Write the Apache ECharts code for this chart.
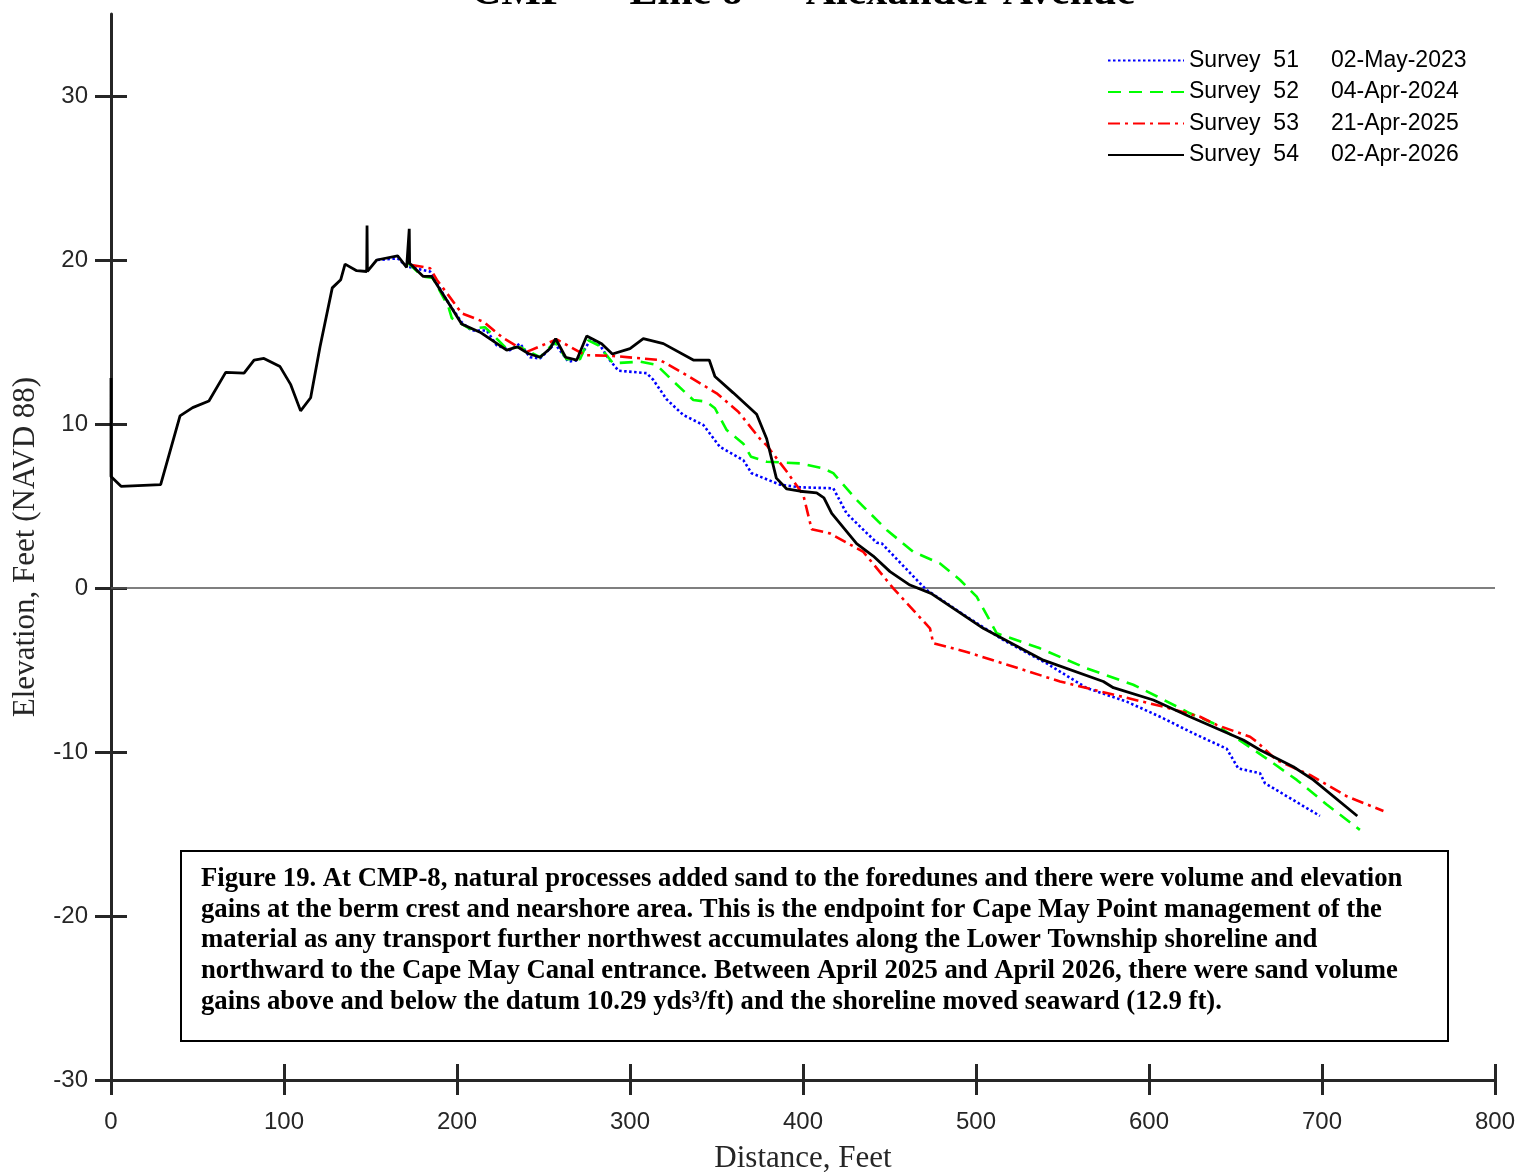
<!DOCTYPE html>
<html>
<head>
<meta charset="utf-8">
<script src="https://cdn.jsdelivr.net/npm/echarts@6/dist/echarts.min.js"></script>
<style>
html,body{margin:0;padding:0;background:#fff;}
#chart{width:1520px;height:1172px;}
</style>
</head>
<body>
<div id="chart"></div>
<script>
// ---------------- DATA ----------------
const chartTitle = 'CMP  –  Line 8  –  Alexander Avenue';
const xAxisName = 'Distance, Feet';
const yAxisName = 'Elevation, Feet (NAVD 88)';
const xTicks = [0, 100, 200, 300, 400, 500, 600, 700, 800];
const yTicks = [-30, -20, -10, 0, 10, 20, 30];

const surveyNames = ['Survey  51', 'Survey  52', 'Survey  53', 'Survey  54'];
const surveyDates = ['02-May-2023', '04-Apr-2024', '21-Apr-2025', '02-Apr-2026'];

// Survey 51 (02-May-2023)
const dist51 = [154,165.7,171,184.4,194,202.7,208.5,217.2,222.9,230.6,236.4,242.2,248,256.6,264.3,270.1,276.9,282.7,287.5,293.3,309.6,313.4,321.2,330.8,342.4,352,365.5,370.3,386.7,398.3,417.5,425.2,442.6,445.5,467.6,471.5,494.6,515.8,540.9,564,587.1,606.4,625.6,644.9,651.6,664.2,667,698.8];
const elev51 = [20.0,20.1,19.6,19.3,17.56,16.2,15.7,15.7,14.8,14.5,14.9,14.07,14.0,14.9,13.8,13.9,15.1,14.8,14.0,13.25,13.1,12.7,11.5,10.55,9.94,8.6,7.8,7.0,6.3,6.14,6.08,4.55,2.76,2.72,0.29,-0.12,-1.75,-3.17,-4.6,-6.1,-6.93,-7.85,-8.86,-9.8,-11.0,-11.3,-11.9,-13.9];

// Survey 52 (04-Apr-2024)
const dist52 = [172,180,186,195,197,207.5,216.2,220.1,228.7,236.4,248,256.6,263.4,271.1,275.9,281.7,290.3,305.8,315.4,323.1,336.6,344.3,349.1,355.9,365.5,370,379,398.3,411.7,417.5,431,448.4,463.8,479.2,490.8,500.4,512,537,564,590.9,604.4,623.7,637.2,650.7,668,685.4,702.7,721.9];
const elev52 = [19.8,19.0,18.9,17.15,16.45,15.8,15.9,15.5,14.6,14.7,14.07,15.0,13.95,13.95,15.1,14.8,13.7,13.8,13.6,12.8,11.46,11.36,10.96,9.63,8.8,8.0,7.7,7.6,7.3,7.0,5.37,3.54,2.2,1.5,0.49,-0.53,-2.76,-3.68,-4.9,-5.9,-6.6,-7.64,-8.25,-9.17,-10.4,-11.7,-13.2,-14.75];

// Survey 53 (21-Apr-2025)
const dist53 = [173.8,184.4,188.3,194,202.7,215.2,226.8,240.3,257.6,274,290.3,317.3,330.8,350.1,362.6,375.1,379,390.6,400.2,405,415.6,434.9,452.2,473.4,475.3,494.6,548.6,571.7,608.3,629.5,639.1,658.4,662.2,673.8,693,714.3,735.5];
const elev53 = [19.7,19.5,18.8,18.0,16.75,16.24,15.23,14.4,15.16,14.2,14.15,13.9,13.1,11.87,10.75,9.1,8.7,7.1,5.67,3.58,3.33,2.2,-0.02,-2.46,-3.37,-3.9,-5.7,-6.3,-7.24,-7.85,-8.35,-9.07,-9.37,-10.5,-11.4,-12.7,-13.6];

// Survey 54 (02-Apr-2026)
const dist54 = [0,0,5.8,28.7,39.9,47.2,56.6,66.3,76.9,82.7,88.4,97.7,103.9,109.6,115.4,120.8,127.9,132.8,135.3,142,147.8,148,148.2,153.6,165.7,170.9,172.4,172.6,180.5,185.4,195,202.7,213.3,228.7,234.9,241.2,248,253.8,257,262.8,269.2,275,283.6,289.8,300,307.7,319.3,336.6,345.8,349.1,359.7,373.2,379,384.6,390.6,398.3,407.9,412.1,416.6,431,440.6,450.3,461.8,474,504.2,538.9,573.6,579.4,602.5,623.7,654.5,664.2,683.4,695,720.4];
const elev54 = [12.8,6.8,6.2,6.3,10.5,11.0,11.4,13.15,13.1,13.9,14.0,13.5,12.4,10.8,11.6,14.7,18.3,18.8,19.75,19.35,19.3,22.1,19.3,20.0,20.25,19.55,21.9,19.8,19.0,19.0,17.4,16.1,15.6,14.5,14.7,14.3,14.07,14.6,15.2,14.07,13.9,15.37,14.9,14.27,14.6,15.2,14.9,13.9,13.9,12.9,11.9,10.6,9.1,6.7,6.04,5.9,5.8,5.5,4.55,2.7,1.95,1.0,0.18,-0.33,-2.46,-4.4,-5.7,-6.08,-6.83,-7.85,-9.27,-9.88,-10.9,-11.7,-13.9];

const captionLines = [
  'Figure 19. At CMP-8, natural processes added sand to the foredunes and there were volume and elevation',
  'gains at the berm crest and nearshore area. This is the endpoint for Cape May Point management of the',
  'material as any transport further northwest accumulates along the Lower Township shoreline and',
  'northward to the Cape May Canal entrance. Between April 2025 and April 2026, there were sand volume',
  'gains above and below the datum 10.29 yds³/ft) and the shoreline moved seaward (12.9 ft).'
];

// ---------------- CHART ----------------
const pairs = (xs, ys) => xs.map((x, i) => [x, ys[i]]);
const SERIF = '"Liberation Serif", "Times New Roman", serif';
const SANS = '"Liberation Sans", Arial, sans-serif';
const AX = '#262626';

const styles = [
  {color: '#0000ff', type: [2.5, 2.5], width: 2.6},
  {color: '#00ff00', type: [13, 8], width: 2.6},
  {color: '#ff0000', type: [12, 5, 3, 5], width: 2.6},
  {color: '#000000', type: 'solid', width: 2.8}
];
const dataSets = [pairs(dist51, elev51), pairs(dist52, elev52), pairs(dist53, elev53), pairs(dist54, elev54)];

const series = dataSets.map((d, i) => ({
  name: surveyNames[i],
  type: 'line',
  data: d,
  xAxisIndex: 0,
  yAxisIndex: 0,
  symbol: 'none',
  smooth: false,
  lineStyle: {color: styles[i].color, type: styles[i].type, width: styles[i].width, cap: 'butt'},
  itemStyle: {color: styles[i].color},
  z: 3 + i
}));
series[0].markLine = {
  silent: true,
  symbol: 'none',
  label: {show: false},
  lineStyle: {color: '#555', width: 1.5, type: 'solid'},
  data: [{yAxis: 0}],
  z: 1
};

const graphics = [
  {type: 'text', x: 803, y: 14, silent: true,
   style: {text: chartTitle, font: 'bold 42px ' + SERIF, fill: '#000', align: 'center', verticalAlign: 'bottom'}},
  {type: 'rect', shape: {x: 181, y: 851, width: 1267, height: 190}, z: 50,
   style: {fill: '#fff', stroke: '#000', lineWidth: 2}}
];
captionLines.forEach((t, i) => {
  graphics.push({type: 'text', x: 201, y: 879 + i * 30.75, z: 51, silent: true,
    style: {text: t, font: 'bold 26.7px ' + SERIF, fill: '#000', align: 'left', verticalAlign: 'middle'}});
});

const option = {
  animation: false,
  backgroundColor: '#fff',
  grid: {left: 111, right: 25, top: 14, bottom: 92, containLabel: false, outerBoundsMode: 'none'},
  legend: {
    orient: 'vertical',
    left: 1107,
    top: 49,
    padding: 0,
    itemWidth: 76,
    itemHeight: 20,
    itemGap: 8.5,
    data: surveyNames,
    itemStyle: {opacity: 0},
    formatter: name => '{a|' + name + '}{b|' + surveyDates[surveyNames.indexOf(name)] + '}',
    textStyle: {
      fontFamily: SANS, fontSize: 23, color: '#000', lineHeight: 23,
      rich: {
        a: {fontFamily: SANS, fontSize: 23, color: '#000', width: 142},
        b: {fontFamily: SANS, fontSize: 23, color: '#000'}
      }
    }
  },
  xAxis: [
    {
      type: 'value', min: 0, max: 800, interval: 100, position: 'bottom',
      name: xAxisName, nameLocation: 'middle', nameGap: 63,
      nameTextStyle: {fontFamily: SERIF, fontSize: 31, color: AX},
      axisLine: {show: true, onZero: false, lineStyle: {color: AX, width: 3}},
      axisTick: {show: true, inside: false, length: 15, lineStyle: {color: AX, width: 3}, customValues: xTicks},
      axisLabel: {show: true, margin: 30, fontFamily: SANS, fontSize: 24, color: AX, customValues: xTicks},
      splitLine: {show: false}
    },
    {
      type: 'value', min: 0, max: 800, interval: 100, position: 'bottom', offset: 0,
      axisLine: {show: false, onZero: false},
      axisTick: {show: true, inside: true, length: 16, lineStyle: {color: AX, width: 3}, customValues: xTicks},
      axisLabel: {show: false},
      splitLine: {show: false}
    }
  ],
  yAxis: [
    {
      type: 'value', min: -30, max: 35, interval: 10, position: 'left',
      name: yAxisName, nameLocation: 'middle', nameGap: 70,
      nameTextStyle: {fontFamily: SERIF, fontSize: 31, color: AX},
      axisLine: {show: true, onZero: false, lineStyle: {color: AX, width: 3}},
      axisTick: {show: true, inside: false, length: 16, lineStyle: {color: AX, width: 3}, customValues: yTicks},
      axisLabel: {show: true, margin: 23, fontFamily: SANS, fontSize: 24, color: AX, customValues: yTicks},
      splitLine: {show: false}
    },
    {
      type: 'value', min: -30, max: 35, interval: 10, position: 'left', offset: 0,
      axisLine: {show: false, onZero: false},
      axisTick: {show: true, inside: true, length: 16, lineStyle: {color: AX, width: 3}, customValues: yTicks},
      axisLabel: {show: false},
      splitLine: {show: false}
    }
  ],
  series: series,
  graphic: graphics
};

const chart = echarts.init(document.getElementById('chart'), null, {renderer: 'canvas'});
chart.setOption(option);
</script>
</body>
</html>
